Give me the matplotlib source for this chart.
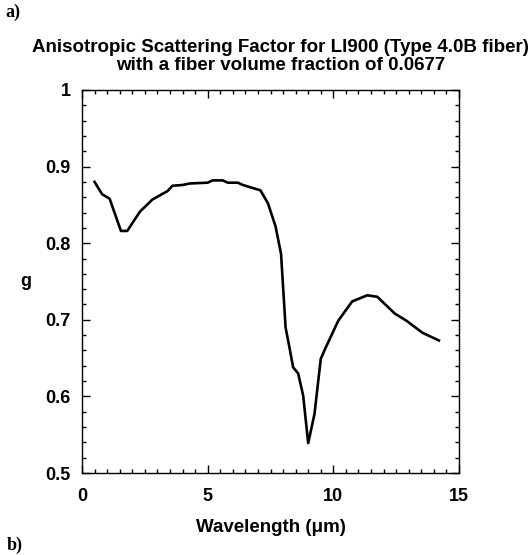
# Anisotropic scattering factor g vs wavelength for LI900
import matplotlib.pyplot as plt
from matplotlib.ticker import MultipleLocator

# Data
wavelength = [0.5, 0.8, 1.1, 1.55, 1.8, 2.3, 2.8, 3.4, 3.6, 4.0, 4.3, 5.0, 5.2, 5.6, 5.8,
              6.2, 6.4, 7.1, 7.4, 7.7, 7.92, 8.1, 8.23, 8.4, 8.6, 8.8, 9.0, 9.25, 9.5,
              9.7, 10.2, 10.75, 11.35, 11.75, 12.45, 12.9, 13.55, 14.2]
g_values = [0.880, 0.864, 0.858, 0.816, 0.816, 0.841, 0.857, 0.868, 0.875, 0.876, 0.878,
            0.879, 0.882, 0.882, 0.879, 0.879, 0.876, 0.869, 0.852, 0.822, 0.786, 0.690,
            0.668, 0.638, 0.630, 0.601, 0.539, 0.577, 0.649, 0.664, 0.699, 0.724, 0.732,
            0.730, 0.708, 0.699, 0.683, 0.673]

x_ticks = [0, 5, 10, 15]
x_labels = ["0", "5", "10", "15"]
y_ticks = [0.5, 0.6, 0.7, 0.8, 0.9, 1.0]
y_labels = ["0.5", "0.6", "0.7", "0.8", "0.9", "1"]

plt.rcParams['font.family'] = ['Liberation Sans', 'DejaVu Sans']

fig = plt.figure(figsize=(5.31, 5.55), dpi=100)
# axes box: x 82..459 px, y 90..473 px
ax = fig.add_axes([82 / 531, 1 - 473 / 555, 377 / 531, 383 / 555])

ax.plot(wavelength, g_values, color="black", lw=1.9)

ax.set_xlim(0, 15)
ax.set_ylim(0.5, 1.0)
ax.set_xticks(x_ticks)
ax.set_xticklabels(x_labels, fontsize=13, fontweight="bold")
ax.set_yticks(y_ticks)
ax.set_yticklabels(y_labels, fontsize=13, fontweight="bold")
ax.xaxis.set_minor_locator(MultipleLocator(0.5))
ax.yaxis.set_minor_locator(MultipleLocator(0.02))
ax.tick_params(which="both", direction="in", top=True, right=True, width=1)
ax.tick_params(which="major", length=6, pad=8)
ax.tick_params(axis="x", which="major", pad=11)
ax.tick_params(which="minor", length=3)
for s in ax.spines.values():
    s.set_linewidth(1)

ax.set_xlabel("Wavelength (\u03bcm)", fontsize=13.5, fontweight="bold", labelpad=10)
ax.set_ylabel("g", fontsize=13, fontweight="bold", rotation=0, labelpad=14, va="center")

fig.text(0.529, 0.898, "Anisotropic Scattering Factor for LI900 (Type 4.0B fiber)\n"
         "with a fiber volume fraction of 0.0677",
         ha="center", va="center", fontsize=13.5, fontweight="bold", linespacing=1.1)

fig.text(0.01, 0.978, "a)", fontsize=13, fontweight="bold", family="Liberation Serif",
         va="center")
fig.text(0.012, 0.018, "b)", fontsize=13, fontweight="bold", family="Liberation Serif",
         va="center")

fig.savefig("out.png", dpi=100)
